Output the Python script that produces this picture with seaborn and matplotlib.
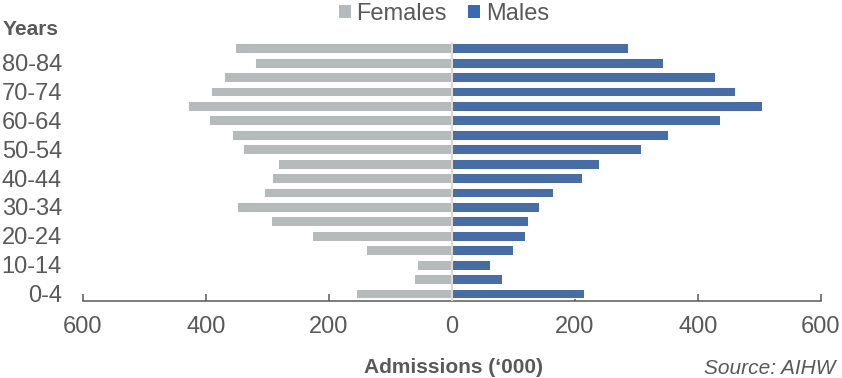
import matplotlib
matplotlib.use("Agg")
import matplotlib.pyplot as plt
from matplotlib.patches import Patch
import pandas as pd
import seaborn as sns

# Hospital admissions ('000) by five-year age group
age_groups = ["0-4", "5-9", "10-14", "15-19", "20-24", "25-29", "30-34", "35-39",
              "40-44", "45-49", "50-54", "55-59", "60-64", "65-69", "70-74",
              "75-79", "80-84", "85+"]
females = [156, 62, 56, 140, 228, 294, 349, 305, 292, 283, 340, 357, 394, 429,
           392, 370, 320, 353]
males = [215, 82, 62, 99, 119, 123, 142, 164, 212, 239, 307, 352, 436, 504,
         460, 428, 344, 286]
x_ticks = [-600, -400, -200, 0, 200, 400, 600]
x_tick_labels = ["600", "400", "200", "0", "200", "400", "600"]
series_names = ["Females", "Males"]

FEMALE_COLOR = "#b5bbbc"
MALE_COLOR = "#386ab3"
TEXT_COLOR = "#595959"

sns.set_theme(style="white")
plt.rcParams["font.family"] = ["Liberation Sans", "DejaVu Sans"]

# Females drawn to the left as negative values
df = pd.DataFrame({
    "age": age_groups * 2,
    "sex": [series_names[0]] * len(age_groups) + [series_names[1]] * len(age_groups),
    "value": [-v for v in females] + males,
})
order = age_groups[::-1]  # oldest group at the top

W, H = 842, 378
fig = plt.figure(figsize=(W / 100, H / 100), dpi=100)
ax = fig.add_axes([82.7 / W, (H - 301) / H, (821 - 82.7) / W, 259 / H])

sns.barplot(data=df, x="value", y="age", hue="sex", order=order,
            hue_order=series_names, palette=[FEMALE_COLOR, MALE_COLOR],
            dodge=False, width=0.68, orient="h", errorbar=None,
            edgecolor="white", linewidth=0.7, legend=False, ax=ax)

ax.axvline(0, color="#d9d9d9", lw=1.5, zorder=3)

ax.set_xlim(-600, 600)
ax.set_ylim(len(order) - 1 + 0.52, -0.43)
ax.set_xticks(x_ticks)
ax.set_xticklabels(x_tick_labels)
labelled = age_groups[::2]
ax.set_yticks([order.index(a) for a in labelled])
ax.set_yticklabels(labelled)
ax.set_xlabel("")
ax.set_ylabel("")

for side in ["top", "right", "left"]:
    ax.spines[side].set_visible(False)
ax.spines["bottom"].set_color(TEXT_COLOR)
ax.spines["bottom"].set_linewidth(1.1)

ax.tick_params(axis="x", direction="in", length=5, width=1.1, color=TEXT_COLOR,
               labelsize=17, labelcolor=TEXT_COLOR, pad=10.5, bottom=True)
ax.tick_params(axis="y", length=0, labelsize=17, labelcolor=TEXT_COLOR, pad=15)

fig.text(3 / W, 1 - 35 / H, "Years", fontsize=15, fontweight="bold",
         color=TEXT_COLOR, ha="left", va="baseline")
fig.text(453 / W, 1 - 373 / H, "Admissions (\u2018000)", fontsize=15,
         fontweight="bold", color=TEXT_COLOR, ha="center", va="baseline")
fig.text(836 / W, 1 - 374 / H, "Source: AIHW", fontsize=15, fontstyle="italic",
         color=TEXT_COLOR, ha="right", va="baseline")

handles = [Patch(facecolor=FEMALE_COLOR, edgecolor="none"),
           Patch(facecolor=MALE_COLOR, edgecolor="none")]
fig.legend(handles, series_names, loc="center", bbox_to_anchor=(444 / W, 1 - 14 / H),
           ncol=2, frameon=False, fontsize=17, labelcolor=TEXT_COLOR,
           handlelength=0.5, handleheight=0.5, handletextpad=0.25,
           columnspacing=0.9, borderpad=0, borderaxespad=0)

fig.savefig("out.png", dpi=100)
